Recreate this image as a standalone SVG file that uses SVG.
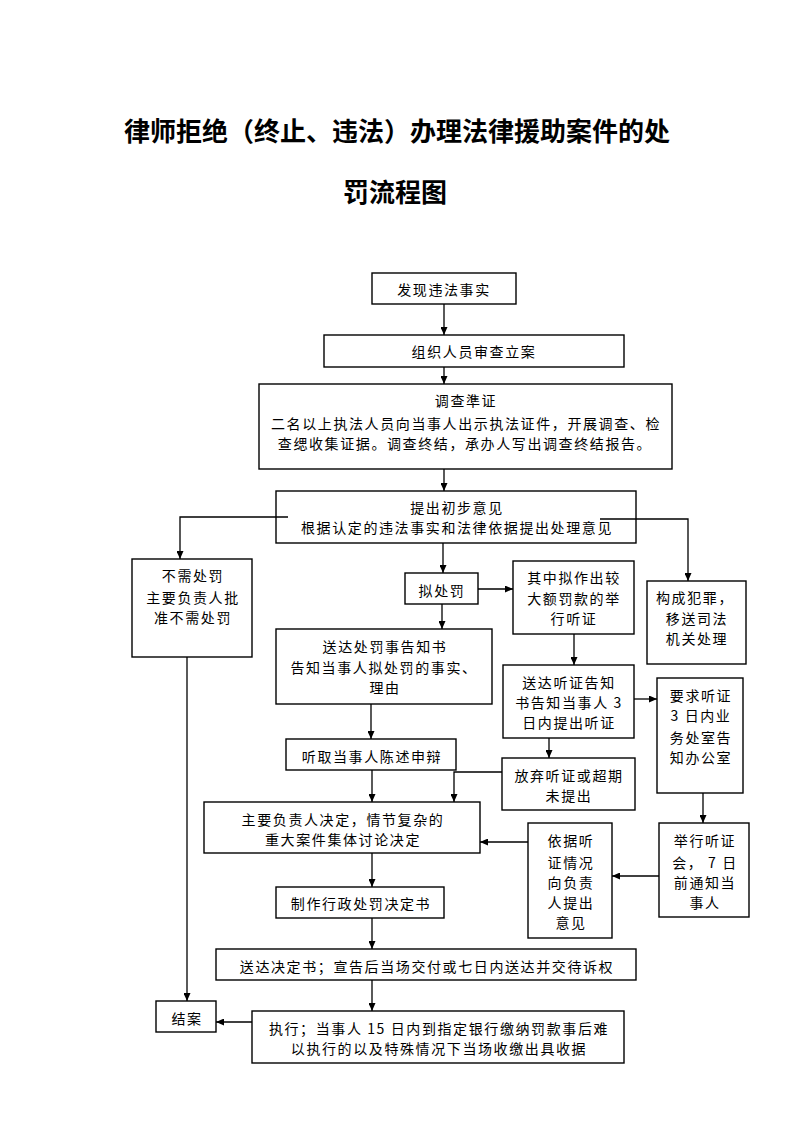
<svg xmlns="http://www.w3.org/2000/svg" width="793" height="1122" viewBox="0 0 793 1122">
<defs>
<marker id="ah" markerWidth="8" markerHeight="7" refX="8" refY="3.5" orient="auto" markerUnits="userSpaceOnUse">
<path d="M0,0 L8,3.5 L0,7 z" fill="#000"/>
</marker>
<style>
.b{fill:#fff;stroke:#000;stroke-width:1.4}
.t{font-family:"Noto Sans CJK SC","Noto Sans",sans-serif;font-size:14px;letter-spacing:1.6px;text-anchor:middle;dominant-baseline:central;fill:#000}
.title{font-family:"Noto Sans CJK SC","Noto Sans",sans-serif;font-size:26px;font-weight:700;text-anchor:middle;dominant-baseline:central;fill:#000}
.c{fill:none;stroke:#000;stroke-width:1.3}
.a{fill:none;stroke:#000;stroke-width:1.3;marker-end:url(#ah)}
</style>
</defs>
<rect width="793" height="1122" fill="#fff"/>
<g id="title">
<text class="title" x="397" y="129">律师拒绝（终止、违法）办理法律援助案件的处</text>
<text class="title" x="395" y="190">罚流程图</text>
</g>
<g id="n1"><rect class="b" x="372" y="273" width="144" height="31"/><text class="t" x="444" y="289">发现违法事实</text></g>
<g id="n2"><rect class="b" x="324" y="335" width="300" height="32"/><text class="t" x="474" y="351">组织人员审查立案</text></g>
<g id="n3"><rect class="b" x="259" y="384" width="413" height="85"/>
<text class="t" x="466" y="400">调查準证</text>
<text class="t" x="466" y="423">二名以上执法人员向当事人出示执法证件，开展调查、检</text>
<text class="t" x="465" y="443">查缌收集证据。调查终结，承办人写出调查终结报告。</text></g>
<g id="n4"><rect class="b" x="276" y="491" width="360" height="52"/>
<text class="t" x="457" y="507">提出初步意见</text>
<text class="t" x="457" y="527">根据认定的违法事实和法律依据提出处理意见</text></g>
<g id="n5"><rect class="b" x="132" y="559" width="120" height="98"/>
<text class="t" x="193" y="575">不需处罚</text>
<text class="t" x="193" y="597">主要负责人批</text>
<text class="t" x="193" y="617">准不需处罚</text></g>
<g id="n6"><rect class="b" x="405" y="573" width="73" height="31"/><text class="t" x="442" y="590">拟处罚</text></g>
<g id="n7"><rect class="b" x="513" y="561" width="121" height="73"/>
<text class="t" x="574" y="577">其中拟作出较</text>
<text class="t" x="574" y="598">大额罚款的举</text>
<text class="t" x="574" y="618">行听证</text></g>
<g id="n8"><rect class="b" x="647" y="581" width="99" height="83"/>
<text class="t" x="695" y="597">构成犯罪，</text>
<text class="t" x="697" y="618">移送司法</text>
<text class="t" x="697" y="638">机关处理</text></g>
<g id="n9"><rect class="b" x="276" y="629" width="216" height="75"/>
<text class="t" x="385" y="646">送达处罚事告知书</text>
<text class="t" x="384" y="667">告知当事人拟处罚的事实、</text>
<text class="t" x="385" y="687">理由</text></g>
<g id="n10"><rect class="b" x="503" y="665" width="131" height="73"/>
<text class="t" x="569" y="682">送达听证告知</text>
<text class="t" x="569" y="702">书告知当事人 3</text>
<text class="t" x="569" y="722">日内提出听证</text></g>
<g id="n11"><rect class="b" x="657" y="678" width="86" height="115"/>
<text class="t" x="701" y="695">要求听证</text>
<text class="t" x="701" y="715">3 日内业</text>
<text class="t" x="701" y="737">务处室告</text>
<text class="t" x="701" y="757">知办公室</text></g>
<g id="n12"><rect class="b" x="286" y="739" width="170" height="31"/><text class="t" x="372" y="756">听取当事人陈述申辩</text></g>
<g id="n13"><rect class="b" x="502" y="758" width="133" height="52"/>
<text class="t" x="569" y="775">放弃听证或超期</text>
<text class="t" x="569" y="795">未提出</text></g>
<g id="n14"><rect class="b" x="204" y="802" width="276" height="51"/>
<text class="t" x="343" y="819">主要负责人决定，情节复杂的</text>
<text class="t" x="343" y="839">重大案件集体讨论决定</text></g>
<g id="n15"><rect class="b" x="528" y="823" width="84" height="115"/>
<text class="t" x="571" y="840">依据听</text>
<text class="t" x="571" y="862">证情况</text>
<text class="t" x="571" y="882">向负责</text>
<text class="t" x="571" y="902">人提出</text>
<text class="t" x="571" y="922">意见</text></g>
<g id="n16"><rect class="b" x="659" y="823" width="90" height="94"/>
<text class="t" x="705" y="840">举行听证</text>
<text class="t" x="705" y="862">会， 7 日</text>
<text class="t" x="705" y="882">前通知当</text>
<text class="t" x="705" y="902">事人</text></g>
<g id="n17"><rect class="b" x="276" y="887" width="168" height="31"/><text class="t" x="361" y="903">制作行政处罚决定书</text></g>
<g id="n18"><rect class="b" x="216" y="949" width="420" height="31"/><text class="t" x="427" y="966">送达决定书；宣告后当场交付或七日内送达并交待诉权</text></g>
<g id="n19"><rect class="b" x="252" y="1011" width="372" height="52"/>
<text class="t" x="439" y="1028">执行；当事人 15 日内到指定银行缴纳罚款事后难</text>
<text class="t" x="439" y="1048">以执行的以及特殊情况下当场收缴出具收据</text></g>
<g id="n20"><rect class="b" x="156" y="1001" width="60" height="31"/><text class="t" x="187" y="1018">结案</text></g>
<g id="connectors">
<line class="a" x1="444" y1="304" x2="444" y2="335"/>
<line class="a" x1="444" y1="367" x2="444" y2="384"/>
<line class="a" x1="444" y1="469" x2="444" y2="491"/>
<polyline class="a" points="288,517 180,517 180,559"/>
<polyline class="a" points="600,519 688,519 688,581"/>
<line class="a" x1="443" y1="543" x2="443" y2="573"/>
<line class="a" x1="478" y1="589" x2="513" y2="589"/>
<line class="a" x1="442" y1="604" x2="442" y2="629"/>
<line class="a" x1="574" y1="634" x2="574" y2="665"/>
<line class="a" x1="634" y1="699" x2="657" y2="699"/>
<line class="a" x1="371" y1="704" x2="371" y2="739"/>
<line class="a" x1="549" y1="738" x2="549" y2="758"/>
<line class="a" x1="372" y1="770" x2="372" y2="802"/>
<polyline class="a" points="502,772 454,772 454,802"/>
<line class="a" x1="703" y1="793" x2="703" y2="823"/>
<line class="a" x1="528" y1="842" x2="480" y2="842"/>
<line class="a" x1="659" y1="876" x2="612" y2="876"/>
<line class="a" x1="372" y1="853" x2="372" y2="887"/>
<line class="a" x1="372" y1="918" x2="372" y2="949"/>
<line class="a" x1="372" y1="980" x2="372" y2="1011"/>
<line class="a" x1="187" y1="657" x2="187" y2="1001"/>
<line class="a" x1="252" y1="1022" x2="216" y2="1022"/>
</g>
</svg>
